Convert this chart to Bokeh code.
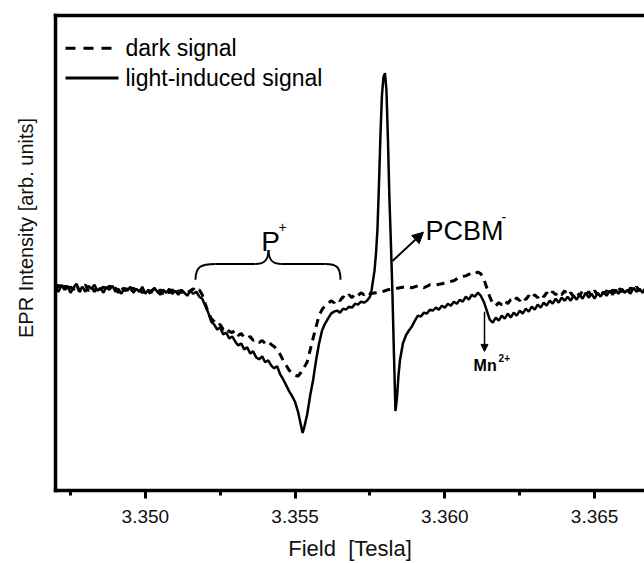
import math
from bokeh.plotting import figure
from bokeh.models import (Range1d, FixedTicker, PrintfTickFormatter, Label, Arrow,
                          NormalHead, LinearAxis)
from bokeh.core.properties import value
from bokeh.embed import file_html
from bokeh.resources import INLINE

FONT = "Liberation Sans"

# ---------------- data ----------------
x_ticks = [3.350, 3.355, 3.360, 3.365]
x_minor = [3.3475, 3.3525, 3.3575, 3.3625]

light_field = [
    3.3470, 3.3471, 3.3472, 3.3473, 3.3474, 3.3475, 3.3476, 3.3477, 3.3478, 3.3479,
    3.3480, 3.3481, 3.3482, 3.3483, 3.3484, 3.3485, 3.3486, 3.3487, 3.3488, 3.3489,
    3.3490, 3.3491, 3.3492, 3.3493, 3.3494, 3.3495, 3.3496, 3.3497, 3.3498, 3.3499,
    3.3500, 3.3501, 3.3502, 3.3503, 3.3504, 3.3505, 3.3506, 3.3507, 3.3508, 3.3509,
    3.3510, 3.3511, 3.3512, 3.3513, 3.3514, 3.3515, 3.3516, 3.3517, 3.3518, 3.3519,
    3.3520, 3.3521, 3.3522, 3.3523, 3.3524, 3.3525, 3.3526, 3.3527, 3.3528, 3.3529,
    3.3530, 3.3531, 3.3532, 3.3533, 3.3534, 3.3535, 3.3536, 3.3537, 3.3538, 3.3539,
    3.3540, 3.3541, 3.3542, 3.3543, 3.3544, 3.3545, 3.3546, 3.3547, 3.3548, 3.3549,
    3.3550, 3.3551, 3.3552, 3.35525,
    3.3553, 3.3554, 3.3555, 3.3556, 3.3557, 3.3558, 3.3559,
    3.3560, 3.3561, 3.3562, 3.3563, 3.3564, 3.3565, 3.3566, 3.3567, 3.3568, 3.3569,
    3.3570, 3.3571, 3.3572, 3.3573, 3.3574, 3.3575,
    3.35755, 3.3576, 3.35765, 3.3577, 3.35775, 3.3578, 3.35785, 3.3579, 3.35795, 3.3580,
    3.35805, 3.3581, 3.35815, 3.3582, 3.35825, 3.3583, 3.35835, 3.3584, 3.35845, 3.3585,
    3.3586, 3.3587, 3.3588, 3.3589,
    3.3590, 3.3591, 3.3592, 3.3593, 3.3594, 3.3595, 3.3596, 3.3597, 3.3598, 3.3599,
    3.3600, 3.3601, 3.3602, 3.3603, 3.3604, 3.3605, 3.3606, 3.3607, 3.3608, 3.3609,
    3.3610, 3.3611, 3.3612, 3.3613, 3.3614, 3.3615, 3.3616, 3.3617, 3.3618, 3.3619,
    3.3620, 3.3621, 3.3622, 3.3623, 3.3624, 3.3625, 3.3626, 3.3627, 3.3628, 3.3629,
    3.3630, 3.3631, 3.3632, 3.3633, 3.3634, 3.3635, 3.3636, 3.3637, 3.3638, 3.3639,
    3.3640, 3.3641, 3.3642, 3.3643, 3.3644, 3.3645, 3.3646, 3.3647, 3.3648, 3.3649,
    3.3650, 3.3651, 3.3652, 3.3653, 3.3654, 3.3655, 3.3656, 3.3657, 3.3658, 3.3659,
    3.3660, 3.3661, 3.3662, 3.3663, 3.3664, 3.3665, 3.3666, 3.3667,
]
light_signal = [
    2, -3, 4, -1, 3, -4, 1, 5, -2, 2,
    -3, 3, 0, 4, -2, 1, -4, 2, -1, 3,
    -3, 0, -5, 1, -2, 2, -4, 0, -3, 2,
    -5, -1, -4, 1, -3, -6, -1, -4, 0, -5,
    -2, -6, -1, -4, -7, -2, -5, -3, -8, -10,
    -17, -24, -33, -36, -41, -39, -46, -44, -50, -48,
    -53, -57, -55, -61, -59, -65, -63, -69, -71, -68,
    -74, -72, -77, -80, -78, -86, -91, -97, -103, -108,
    -114, -124, -138, -145,
    -140, -127, -108, -92, -72, -55, -42,
    -35, -30, -25, -23, -22, -24, -20, -21, -18, -19,
    -15, -16, -13, -14, -12, -8,
    -2, 8, 18, 35, 60, 105, 155, 195, 213, 217,
    200, 150, 90, 45, -5, -65, -123, -110, -88, -72,
    -55, -47, -42, -38,
    -32, -27, -28, -24, -25, -21, -22, -19, -21, -17,
    -19, -15, -17, -13, -15, -11, -13, -8, -11, -6,
    -8, -4, -7, -13, -22, -31, -34, -29, -32, -27,
    -30, -25, -29, -24, -27, -22, -25, -20, -23, -18,
    -21, -16, -19, -14, -17, -12, -15, -10, -14, -9,
    -12, -8, -12, -7, -11, -6, -10, -4, -9, -5,
    -10, -4, -8, -3, -7, -2, -6, -1, -5, 0,
    -4, -1, -5, 1, -3, 0, -4, 1,
]

dark_field = [
    3.3470, 3.3471, 3.3472, 3.3473, 3.3474, 3.3475, 3.3476, 3.3477, 3.3478, 3.3479,
    3.3480, 3.3481, 3.3482, 3.3483, 3.3484, 3.3485, 3.3486, 3.3487, 3.3488, 3.3489,
    3.3490, 3.3491, 3.3492, 3.3493, 3.3494, 3.3495, 3.3496, 3.3497, 3.3498, 3.3499,
    3.3500, 3.3501, 3.3502, 3.3503, 3.3504, 3.3505, 3.3506, 3.3507, 3.3508, 3.3509,
    3.3510, 3.3511, 3.3512, 3.3513, 3.3514, 3.3515, 3.3516, 3.3517, 3.3518, 3.3519,
    3.3520, 3.3521, 3.3522, 3.3523, 3.3524, 3.3525, 3.3526, 3.3527, 3.3528, 3.3529,
    3.3530, 3.3531, 3.3532, 3.3533, 3.3534, 3.3535, 3.3536, 3.3537, 3.3538, 3.3539,
    3.3540, 3.3541, 3.3542, 3.3543, 3.3544, 3.3545, 3.3546, 3.3547, 3.3548, 3.3549,
    3.3550, 3.3551, 3.3552, 3.3553, 3.3554, 3.3555, 3.3556, 3.3557, 3.3558, 3.3559,
    3.3560, 3.3561, 3.3562, 3.3563, 3.3564, 3.3565, 3.3566, 3.3567, 3.3568, 3.3569,
    3.3570, 3.3571, 3.3572, 3.3573, 3.3574, 3.3575,
    3.3577, 3.3579, 3.3581, 3.3583, 3.3585, 3.3587, 3.3589, 3.3591, 3.3593, 3.3595,
    3.3597, 3.3599, 3.3601, 3.3603, 3.3605, 3.3607, 3.3609,
    3.3610, 3.3611, 3.3612, 3.3613, 3.3614, 3.3615, 3.3616, 3.3617, 3.3618, 3.3619,
    3.3620, 3.3621, 3.3622, 3.3623, 3.3624, 3.3625, 3.3626, 3.3627, 3.3628, 3.3629,
    3.3630, 3.3631, 3.3632, 3.3633, 3.3634, 3.3635, 3.3636, 3.3637, 3.3638, 3.3639,
    3.3640, 3.3641, 3.3642, 3.3643, 3.3644, 3.3645, 3.3646, 3.3647, 3.3648, 3.3649,
    3.3650, 3.3651, 3.3652, 3.3653, 3.3654, 3.3655, 3.3656, 3.3657, 3.3658, 3.3659,
    3.3660, 3.3661, 3.3662, 3.3663, 3.3664, 3.3665, 3.3666, 3.3667,
]
dark_signal = [
    0, 4, -2, 3, -3, 2, -1, 4, -3, 1,
    4, -2, 2, -3, 3, -1, 2, -3, 3, -2,
    1, -4, 2, -2, 0, -4, 1, -3, 0, -4,
    -1, -5, -2, 0, -4, -1, -5, -2, -4, -1,
    -5, -2, -4, -1, -4, -2, 0, -3, -1, -6,
    -15, -24, -30, -33, -37, -36, -41, -39, -43, -44,
    -42, -47, -45, -49, -50, -48, -52, -51, -54, -52,
    -55, -53, -56, -58, -62, -66, -72, -77, -82, -85,
    -87, -88, -84, -79, -74, -62, -50, -38, -27, -21,
    -17, -15, -12, -14, -10, -12, -8, -10, -6, -9,
    -5, -7, -4, -6, -3, -5,
    -4, -3, -1, 0, 1, 2, 1, 3, 1, 4,
    4, 5, 7, 8, 12, 13, 16,
    15, 17, 15, 10, 1, -8, -15, -17, -14, -16,
    -12, -15, -11, -13, -9, -12, -8, -11, -7, -10,
    -6, -9, -5, -8, -4, -7, -3, -6, -3, -6,
    -2, -7, -4, -8, -3, -7, -2, -6, -3, -7,
    -2, -6, -1, -5, -2, -6, -1, -4, 1, -3,
    0, -4, 1, -2, 2, -2, 1, -1,
]

assert len(light_field) == len(light_signal)
assert len(dark_field) == len(dark_signal)

# ---------------- figure ----------------
p = figure(width=644, height=563, output_backend="svg", toolbar_location=None,
           x_range=Range1d(3.347, 3.366666), y_range=Range1d(-203, 275),
           min_border_left=55, min_border_top=15, min_border_right=0,
           min_border_bottom=70)
p.outline_line_color = None
p.grid.visible = False
p.background_fill_color = "white"
p.border_fill_color = "white"

xa = p.xaxis[0]
xa.ticker = FixedTicker(ticks=x_ticks, minor_ticks=x_minor)
xa.formatter = PrintfTickFormatter(format="%.3f")
xa.axis_line_width = 3.5
xa.axis_line_cap = "square"
xa.major_tick_out = 8
xa.major_tick_in = 0
xa.major_tick_line_width = 3
xa.minor_tick_out = 5
xa.minor_tick_in = 0
xa.minor_tick_line_width = 3
xa.major_label_text_font = FONT
xa.major_label_text_font_size = "19px"
xa.major_label_text_color = "#111111"
xa.major_label_standoff = 11
xa.axis_label = "Field\u00a0 [Tesla]"
xa.axis_label_text_font = FONT
xa.axis_label_text_font_size = "22px"
xa.axis_label_text_font_style = "normal"
xa.axis_label_text_color = "#111111"
xa.axis_label_standoff = 10

ya = p.yaxis[0]
ya.ticker = FixedTicker(ticks=[])
ya.axis_line_width = 3.5
ya.axis_line_cap = "square"
ya.major_label_text_font_size = "0px"
ya.major_label_standoff = 0
ya.major_tick_out = 0
ya.major_tick_in = 0
ya.minor_tick_out = 0
ya.minor_tick_in = 0
ya.axis_label = "\u00a0" * 9 + "EPR Intensity [arb. units]"
ya.axis_label_text_font = FONT
ya.axis_label_text_font_size = "20px"
ya.axis_label_text_font_style = "normal"
ya.axis_label_text_color = "#111111"
ya.axis_label_standoff = 19

top = LinearAxis(ticker=FixedTicker(ticks=[]), axis_line_width=3.5, axis_line_cap="square",
                 major_tick_out=0, major_tick_in=0, minor_tick_out=0, minor_tick_in=0,
                 major_label_standoff=0, major_label_text_font_size="0px")
p.add_layout(top, "above")

# ---------------- curves ----------------
p.line(dark_field, dark_signal, line_color="black", line_width=3, line_dash="8 6")
p.line(light_field, light_signal, line_color="black", line_width=2.5)

# ---------------- legend (drawn by hand) ----------------
p.segment(x0=[3.347334], y0=[242], x1=[3.349104], y1=[242],
          line_color="black", line_width=3, line_dash="10 8")
p.segment(x0=[3.347334], y0=[212], x1=[3.349104], y1=[212],
          line_color="black", line_width=3)
for yy, txt in [(242, "dark signal"), (212, "light-induced signal")]:
    p.add_layout(Label(x=3.349337, y=yy, text=txt, text_font=FONT, text_font_size="23px",
                       text_baseline="middle", text_align="left", text_color="black"))

# ---------------- P+ brace ----------------
p.bezier(x0=[3.351674, 3.353678, 3.354112, 3.356015],
         y0=[9, 25, 39, 25],
         x1=[3.352342, 3.354112, 3.354546, 3.356516],
         y1=[25, 39, 25, 9],
         cx0=[3.351674, 3.354012, 3.354112, 3.356382],
         cy0=[22, 25, 30, 25],
         cx1=[3.351841, 3.354112, 3.354212, 3.356516],
         cy1=[25, 30, 25, 22],
         line_color="black", line_width=2)
p.segment(x0=[3.352342, 3.354546], y0=[25, 25], x1=[3.353678, 3.356015], y1=[25, 25],
          line_color="black", line_width=2)
p.add_layout(Label(x=3.35418, y=48, text="P", text_font=FONT, text_font_size="28px",
                   text_align="center", text_baseline="alphabetic", text_color="black"))
p.add_layout(Label(x=3.35418, y=48, x_offset=8, y_offset=14, text="+", text_font=FONT,
                   text_font_size="14px", text_align="left", text_baseline="alphabetic",
                   text_color="black"))

# ---------------- PCBM- ----------------
p.add_layout(Arrow(x_start=3.358252, y_start=28, x_end=3.359287, y_end=57,
                   line_color="black", line_width=2,
                   end=NormalHead(size=11, fill_color="black", line_color="black")))
p.add_layout(Label(x=3.35935, y=58, text="PCBM", text_font=FONT, text_font_size="27px",
                   text_align="left", text_baseline="alphabetic", text_color="black"))
p.add_layout(Label(x=3.35935, y=58, x_offset=76, y_offset=14, text="-", text_font=FONT,
                   text_font_size="14px", text_align="left", text_baseline="alphabetic",
                   text_color="black"))

# ---------------- Mn2+ ----------------
p.add_layout(Arrow(x_start=3.361324, y_start=-23, x_end=3.361324, y_end=-63,
                   line_color="black", line_width=1.5,
                   end=NormalHead(size=7, fill_color="black", line_color="black")))
p.add_layout(Label(x=3.36096, y=-77, text="Mn", text_font=FONT, text_font_size="16px",
                   text_font_style="bold", text_align="left", text_baseline="alphabetic",
                   text_color="black"))
p.add_layout(Label(x=3.36096, y=-77, x_offset=25, y_offset=7, text="2+", text_font=FONT,
                   text_font_size="10px", text_font_style="bold", text_align="left",
                   text_baseline="alphabetic", text_color="black"))

open("out.html", "w").write(file_html(p, INLINE))
